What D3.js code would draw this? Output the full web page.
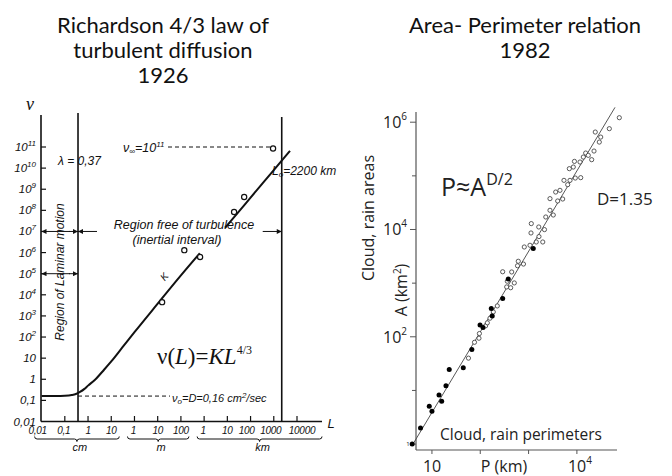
<!DOCTYPE html>
<html><head><meta charset="utf-8">
<script src="https://cdn.jsdelivr.net/npm/d3@7"></script>
<style>body{margin:0;background:#fff}svg{display:block}</style>
</head><body>
<svg id="c" width="672" height="476"></svg>
<script>
// ---------- Left panel data: Richardson 1926 ----------
const richYTicks = [1e-2,1e-1,1,10,1e2,1e3,1e4,1e5,1e6,1e7,1e8,1e9,1e10,1e11];
const richYBase  = ["0,01","0,1","1","10","10","10","10","10","10","10","10","10","10","10"];
const richYExp   = ["","","","","2","3","4","5","6","7","8","9","10","11"];
const richXTicks = [0.01,0.1,1,10,100,1e3,1e4,1e5,1e6,1e7,1e8,1e9]; // cm
const richXLabels = ["0,01","0,1","1","10","1","10","100","1","10","100","1000","10000"];
const unitNames = ["cm","m","km"];
const unitFrom  = [0.01,100,1e5];
const unitTo    = [10,1e4,1e9];
const lawL1  = [0.01,0.1,0.2,0.3,0.45,0.7,1,2,5,10,30,100,1e3,1e4,6.5e4];
const lawNu1 = [0.16,0.168,0.18,0.2,0.25,0.35,0.5,0.95,2.9,7,32,170,3800,8.3e4,9.3e5];
const lawL2  = [8e5,1e6,1e7,1e8,5e8];
const lawNu2 = [1.5e7,2e7,4e8,8.1e9,6.6e10];
const obsL  = [9.3e7,5.3e6,1.95e6,1.4e4,6.7e4,1.55e3];
const obsNu = [8.5e10,4.3e8,8.3e7,1.3e6,6.2e5,4.5e3];
const lambdaL = 0.37, outerL = 2.2e8, nu0 = 0.16, nuInf = 1e11;

// ---------- Right panel data: Lovejoy 1982 ----------
const filledP = [3.9,5.8,8.8,10,14,15.9,19.5,22.8,44.5,67,99,114,169,177,291,380,1250];
const filledA = [1.0,2.0,5.1,4.1,8.2,6.3,12.2,24.6,26.4,58,166,149,337,245,517,1200,4400];
const openP = [57,76,96,94,129,140,159,186,225,352,426,506,363,291,447,590,612,784,815,1069,1443,1966,1640,1122,1138,1625,2133,2270,3245,2773,2773,4000,5080,3640,4467,6450,7200,9270,12000,6970,8420,11600,13580,15200,17200,20230,22600,29100,31100,24000,46900,75500,8900,5400];
const openA = [40,79,115,94,160,182,222,291,376,850,821,1009,1085,1630,1616,2110,2558,2270,4720,5080,5850,5850,7380,8610,12880,11140,9950,17100,18620,22800,37600,34000,37000,49900,53700,68500,82400,91000,92500,136000,146000,181000,224000,266000,241000,200000,290000,426000,528000,655000,757000,1213000,186000,82400];
const fitP = [4.05,61500];
const fitA = [1,1.89e6];
const areaTicks = [1,10,1e2,1e3,1e4,1e5,1e6];
const areaLabelExp = ["", "", "2", "", "4", "", "6"];
const perimTicks = [10,100,1e3,1e4];
const perimLabelExp = ["", null, null, "4"];

const svg = d3.select("#c");
const ink = "#111";

// ---------- Titles ----------
const titleFont = "Lato, 'Open Sans', sans-serif";
[["Richardson 4/3 law of",33],["turbulent diffusion",58],["1926",83]].forEach(([t,y])=>
  svg.append("text").attr("x",163).attr("y",y).attr("text-anchor","middle")
    .attr("font-family",titleFont).attr("font-size",22).attr("fill","#111").text(t));
[["Area- Perimeter relation",33],["1982",58]].forEach(([t,y])=>
  svg.append("text").attr("x",525).attr("y",y).attr("text-anchor","middle")
    .attr("font-family",titleFont).attr("font-size",22).attr("fill","#111").text(t));

// ---------- Left chart ----------
const L = svg.append("g");
const xL = d3.scaleLog().domain([0.01,1e9]).range([41.6,297]);
const yL = d3.scaleLog().domain([0.01,1e11]).range([421.5,147]);
const itf = "'Liberation Sans', Arial, sans-serif";

L.append("line").attr("x1",41).attr("x2",41).attr("y1",115).attr("y2",421.5).attr("stroke",ink).attr("stroke-width",1.6);
L.append("line").attr("x1",41).attr("x2",322).attr("y1",421.5).attr("y2",421.5).attr("stroke",ink).attr("stroke-width",1.6);
richYTicks.forEach((v,i)=>{
  const y = yL(v);
  if (i>0) L.append("line").attr("x1",41).attr("x2",46).attr("y1",y).attr("y2",y).attr("stroke",ink).attr("stroke-width",1.2);
  const t = L.append("text").attr("x",36).attr("y",y+4).attr("text-anchor","end")
    .attr("font-family",itf).attr("font-style","italic").attr("font-size",11.5).attr("fill",ink);
  t.append("tspan").text(richYBase[i]);
  if (richYExp[i]) t.append("tspan").attr("dy",-5).attr("font-size",8).text(richYExp[i]);
});
const xLabelShift = [-4,-1,0,0,-1,0,0,-1,0,-4,-3,5];
richXTicks.forEach((v,i)=>{
  const x = xL(v);
  if (i>0) L.append("line").attr("x1",x).attr("x2",x).attr("y1",421.5).attr("y2",416).attr("stroke",ink).attr("stroke-width",1.2);
  L.append("text").attr("x",x+xLabelShift[i]).attr("y",434).attr("text-anchor","middle")
    .attr("font-family",itf).attr("font-style","italic").attr("font-size",10).attr("letter-spacing",-0.3).attr("fill",ink).text(richXLabels[i]);
});
function brace(x1,x2,y,h){
  const m=(x1+x2)/2;
  return `M${x1},${y} Q${x1},${y+h} ${x1+h},${y+h} L${m-h},${y+h} Q${m},${y+h} ${m},${y+2*h} Q${m},${y+h} ${m+h},${y+h} L${x2-h},${y+h} Q${x2},${y+h} ${x2},${y}`;
}
unitNames.forEach((u,i)=>{
  const x1 = xL(unitFrom[i])-7, x2 = i==2 ? 322 : xL(unitTo[i])+8;
  L.append("path").attr("d",brace(x1,x2,436.5,2.5)).attr("fill","none").attr("stroke",ink).attr("stroke-width",1);
  L.append("text").attr("x",(x1+x2)/2+3).attr("y",451).attr("text-anchor","middle")
    .attr("font-family",itf).attr("font-style","italic").attr("font-size",11).attr("fill",ink).text(u);
});
L.append("text").attr("x",30).attr("y",110).attr("text-anchor","middle").attr("font-family","'Liberation Serif',serif")
  .attr("font-style","italic").attr("font-size",18).attr("fill",ink).text("ν");
L.append("text").attr("x",331).attr("y",428).attr("text-anchor","middle").attr("font-family",itf)
  .attr("font-style","italic").attr("font-size",13).attr("fill",ink).text("L");

[lambdaL, outerL].forEach((v,i)=>{
  L.append("line").attr("x1",xL(v)).attr("x2",xL(v)).attr("y1",i?117:113).attr("y2",421.5).attr("stroke",ink).attr("stroke-width",1.6);
});
const defs = svg.append("defs");
defs.append("marker").attr("id","ah").attr("viewBox","0 0 10 10").attr("refX",10).attr("refY",5)
  .attr("markerWidth",7).attr("markerHeight",5).attr("markerUnits","userSpaceOnUse").attr("orient","auto")
  .append("path").attr("d","M0,0 L10,5 L0,10 z").attr("fill",ink);
function arrow(xa,xb,nu){
  L.append("line").attr("x1",xa).attr("x2",xb).attr("y1",yL(nu)).attr("y2",yL(nu)).attr("stroke",ink).attr("stroke-width",1).attr("marker-end","url(#ah)");
}
[1e7,1e5].forEach(n=>{ arrow(xL(lambdaL)-28+20,41.5,n); arrow(xL(lambdaL)-9,xL(lambdaL),n); });
arrow(xL(lambdaL)+19,xL(lambdaL),1e7);
arrow(xL(outerL)-19,xL(outerL),1e7);

L.append("line").attr("x1",xL(lambdaL)).attr("x2",170).attr("y1",yL(nu0)).attr("y2",yL(nu0))
  .attr("stroke",ink).attr("stroke-width",1).attr("stroke-dasharray","4,3");
L.append("line").attr("x1",168).attr("x2",xL(obsL[0])-3).attr("y1",yL(nuInf)).attr("y2",yL(nuInf))
  .attr("stroke",ink).attr("stroke-width",1).attr("stroke-dasharray","4,3");

const lineL = d3.line().x(d=>xL(d[0])).y(d=>yL(d[1])).curve(d3.curveMonotoneX);
L.append("path").attr("d",lineL(d3.zip(lawL1,lawNu1))).attr("fill","none").attr("stroke",ink).attr("stroke-width",2);
L.append("path").attr("d",lineL(d3.zip(lawL2,lawNu2))).attr("fill","none").attr("stroke",ink).attr("stroke-width",2);
L.selectAll("circle.o").data(d3.zip(obsL,obsNu)).join("circle").attr("class","o")
  .attr("cx",d=>xL(d[0])).attr("cy",d=>yL(d[1])).attr("r",2.6).attr("fill","#fff").attr("stroke",ink).attr("stroke-width",1.2);

function itText(x,y,size,parts,anchor){
  const t=L.append("text").attr("x",x).attr("y",y).attr("text-anchor",anchor||"start").attr("font-family",itf)
    .attr("font-style","italic").attr("font-size",size).attr("fill",ink);
  parts.forEach(p=>{const s=t.append("tspan").text(p[0]); if(p[1]) s.attr("dy",p[1]); if(p[2]) s.attr("font-size",p[2]);});
  return t;
}
itText(58,165,12,[["λ = 0,37"]]);
itText(123,152,12.5,[["ν"],["∞",2,8],["=10",-2],["11",-5,8]]);
itText(272,175,12,[["L"],["o",2,8],["=2200 km",-2]]);
itText(172,402,11,[["ν"],["o",2,8],["=D=0,16 cm",-2],["2",-4,8],["/sec",4]]);
itText(184,229,12.5,[["Region free of turbulence"]],"middle");
itText(177,244,12.5,[["(inertial interval)"]],"middle");
itText(0,0,12,[["Region of Laminar motion"]],"middle").attr("transform","translate(64,272) rotate(-90)");
itText(0,0,10,[["K"]],"middle").attr("transform","translate(167,279) rotate(-50)");
const f = L.append("text").attr("x",157).attr("y",364).attr("font-family","'Liberation Serif',serif").attr("font-size",23).attr("fill",ink);
f.append("tspan").text("ν(");
f.append("tspan").attr("font-style","italic").text("L");
f.append("tspan").text(")=");
f.append("tspan").attr("font-style","italic").text("KL");
f.append("tspan").attr("dy",-10).attr("font-size",12).text("4/3");

// ---------- Right chart ----------
const R = svg.append("g");
const xR = d3.scaleLog().domain([Math.pow(10,0.67),Math.pow(10,4.83)]).range([416,617]);
const yR = d3.scaleLog().domain([Math.pow(10,-0.11),Math.pow(10,6.19)]).range([450,112]);
const axc = "#555";
const sf = "'Open Sans', 'Noto Sans', sans-serif";
R.append("line").attr("x1",416).attr("x2",416).attr("y1",112).attr("y2",450).attr("stroke",axc).attr("stroke-width",1.2);
R.append("line").attr("x1",416).attr("x2",617).attr("y1",450).attr("y2",450).attr("stroke",axc).attr("stroke-width",1.2);
areaTicks.forEach((v,i)=>{
  const y=yR(v);
  R.append("line").attr("x1",416).attr("x2",areaLabelExp[i]?410:412).attr("y1",y).attr("y2",y).attr("stroke",axc).attr("stroke-width",1);
  if (areaLabelExp[i]) {
    const t=R.append("text").attr("x",395).attr("y",y+6).attr("text-anchor","middle").attr("font-family",sf).attr("font-size",16).attr("fill","#222");
    t.append("tspan").text("10");
    t.append("tspan").attr("dy",-8).attr("font-size",10).text(areaLabelExp[i]);
  }
});
R.append("text").attr("x",408).attr("y",446).attr("text-anchor","middle").attr("font-family",sf).attr("font-size",6).attr("fill","#222").text("1");
perimTicks.forEach((v,i)=>{
  const x=xR(v);
  R.append("line").attr("x1",x).attr("x2",x).attr("y1",450).attr("y2",454).attr("stroke",axc).attr("stroke-width",1);
  if (perimLabelExp[i]!==null) {
    const t=R.append("text").attr("x",x-9).attr("y",472).attr("font-family",sf).attr("font-size",16).attr("fill","#222");
    t.append("tspan").text("10");
    if (perimLabelExp[i]) t.append("tspan").attr("dy",-8).attr("font-size",10).text(perimLabelExp[i]);
  }
});
R.append("text").attr("x",504).attr("y",472).attr("text-anchor","middle").attr("font-family",sf).attr("font-size",16).attr("fill","#222").text("P (km)");
R.append("text").attr("transform","translate(374,218) rotate(-90)").attr("text-anchor","middle").attr("font-family",sf).attr("font-size",16).attr("fill","#222").text("Cloud, rain areas");
const at=R.append("text").attr("transform","translate(407,290) rotate(-90)").attr("text-anchor","middle").attr("font-family",sf).attr("font-size",16).attr("fill","#222");
at.append("tspan").text("A (km");at.append("tspan").attr("dy",-6).attr("font-size",10).text("2");at.append("tspan").attr("dy",6).text(")");
const pf=R.append("text").attr("x",441).attr("y",196).attr("font-family",sf).attr("font-size",25).attr("fill","#222");
pf.append("tspan").text("P≈A");pf.append("tspan").attr("dy",-11).attr("font-size",16).text("D/2");
R.append("text").attr("x",597).attr("y",205).attr("font-family",sf).attr("font-size",17).attr("fill","#222").text("D=1.35");
R.append("text").attr("x",440).attr("y",440).attr("font-family",sf).attr("font-size",15.5).attr("fill","#222").text("Cloud, rain perimeters");

R.append("line").attr("x1",xR(fitP[0])).attr("y1",yR(fitA[0])).attr("x2",xR(fitP[1])).attr("y2",yR(fitA[1]))
  .attr("stroke","#444").attr("stroke-width",0.9);
R.selectAll("circle.op").data(d3.zip(openP,openA)).join("circle").attr("class","op")
  .attr("cx",d=>xR(d[0])).attr("cy",d=>yR(d[1])).attr("r",2.1).attr("fill","#fff").attr("stroke","#333").attr("stroke-width",0.8);
R.selectAll("circle.fp").data(d3.zip(filledP,filledA)).join("circle").attr("class","fp")
  .attr("cx",d=>xR(d[0])).attr("cy",d=>yR(d[1])).attr("r",2.5).attr("fill","#000");
</script>
</body></html>
